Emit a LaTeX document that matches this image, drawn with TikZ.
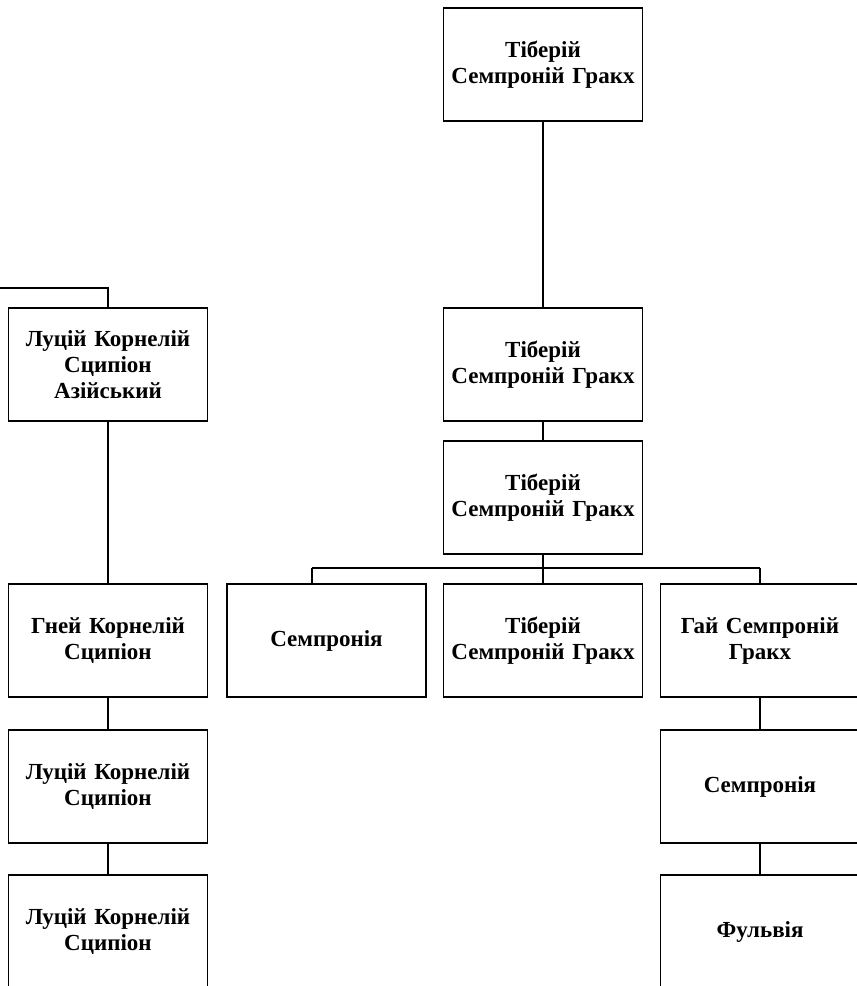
\documentclass[tikz,border=0pt]{standalone}
\usepackage{fontspec}
\setmainfont{Liberation Serif}
\begin{document}
\begin{tikzpicture}[x=1pt,y=-1pt,
  person/.style={draw,line width=1.2pt,minimum width=199pt,minimum height=113pt,
    text width=195pt,align=center,inner sep=0pt,
    font=\fontsize{23}{26}\selectfont\bfseries},
  link/.style={line width=1.2pt}]
\useasboundingbox (0,0) rectangle (857,986);
\clip (0,0) rectangle (857,986);
\node[person] (t1) at (543,64.5) {Тіберій\\Семпроній Гракх};
\node[person] (t2) at (543,364.5) {Тіберій\\Семпроній Гракх};
\node[person] (t3) at (543,497.5) {Тіберій\\Семпроній Гракх};
\node[person] (s1) at (326.5,640.5) {Семпронія};
\node[person] (t4) at (543,640.5) {Тіберій\\Семпроній Гракх};
\node[person] (g) at (760,640.5) {Гай Семпроній\\Гракх};
\node[person] (s2) at (760,786.5) {Семпронія};
\node[person] (f) at (760,931.5) {Фульвія};
\node[person] (a) at (108,364.5) {Луцій Корнелій\\Сципіон\\Азійський};
\node[person] (gn) at (108,640.5) {Гней Корнелій\\Сципіон};
\node[person] (l1) at (108,786.5) {Луцій Корнелій\\Сципіон};
\node[person] (l2) at (108,931.5) {Луцій Корнелій\\Сципіон};
\coordinate (up) at (-2,288);
\coordinate (busl) at (312,568);
\coordinate (busr) at (760,568);
\draw[link] (t1) -- (t2);
\draw[link] (t2) -- (t3);
\draw[link] (t3.south) -- (t4.north);
\draw[link] (busl) -- (busr);
\draw[link] (busl) -- (busl |- s1.north);
\draw[link] (busr) -- (g.north);
\draw[link] (g) -- (s2);
\draw[link] (s2) -- (f);
\draw[link] (up) -| (a.north);
\draw[link] (a) -- (gn);
\draw[link] (gn) -- (l1);
\draw[link] (l1) -- (l2);
\end{tikzpicture}
\end{document}
